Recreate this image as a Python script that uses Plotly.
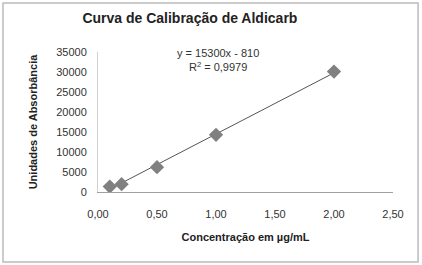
import plotly.graph_objects as go

conc = [0.1, 0.2, 0.5, 1.0, 2.0]
absorb = [1350, 1950, 6200, 14300, 30100]
slope = 15300
intercept = -810
x_ticks = [0, 0.5, 1.0, 1.5, 2.0, 2.5]
x_tick_text = ["0,00", "0,50", "1,00", "1,50", "2,00", "2,50"]
y_ticks = [0, 5000, 10000, 15000, 20000, 25000, 30000, 35000]
y_tick_text = ["0", "5000", "10000", "15000", "20000", "25000", "30000", "35000"]

fit_x = [min(conc), max(conc)]
fit_y = [slope * v + intercept for v in fit_x]

fig = go.Figure()
fig.add_trace(go.Scatter(x=fit_x, y=fit_y, mode="lines",
                         line=dict(color="#555555", width=1), hoverinfo="skip"))
fig.add_trace(go.Scatter(x=conc, y=absorb, mode="markers",
                         marker=dict(symbol="diamond", size=11, color="#808080",
                                     line=dict(width=0))))

font_main = "Liberation Sans Narrow, Liberation Sans, Arial"
fig.update_layout(
    width=422, height=265,
    margin=dict(l=98, r=29, t=52, b=73),
    paper_bgcolor="white", plot_bgcolor="white",
    showlegend=False,
    font=dict(family=font_main, size=11, color="#333333"),
    title=dict(text="<b>Curva de Calibração de Aldicarb</b>", x=0.45, xanchor="center",
               y=0.93, yanchor="middle", font=dict(size=14, color="#222222")),
    xaxis=dict(range=[0, 2.5], tickvals=x_ticks, ticktext=x_tick_text,
               showgrid=False, zeroline=False, showline=True, linecolor="#a0a0a0",
               linewidth=1, ticks="", ticklabelstandoff=12,
               tickfont=dict(size=11, color="#333333"),
               title=dict(text="<b>Concentração em µg/mL</b>", standoff=14,
                          font=dict(size=11, color="#222222"))),
    yaxis=dict(range=[0, 35000], tickvals=y_ticks, ticktext=y_tick_text,
               showgrid=False, zeroline=False,
               showline=True, linecolor="#d0d0d0", linewidth=1, ticks="",
               ticklabelstandoff=8,
               tickfont=dict(size=11, color="#333333"),
               title=dict(text="<b>Unidades de Absorbância</b>", standoff=16,
                          font=dict(size=11, color="#222222"))),
    shapes=[dict(type="rect", xref="paper", yref="paper",
                 x0=-0.322, x1=1.085, y0=-0.5, y1=1.35,
                 line=dict(color="#bbbbbb", width=1.5))],
    annotations=[
        dict(text="y = 15300x - 810<br>R<sup>2</sup> = 0,9979", xref="paper", yref="paper",
             x=0.407, y=0.943, xanchor="center", yanchor="middle", showarrow=False,
             font=dict(size=11, color="#333333"), align="center"),
    ],
)

fig.write_html("out.html")
